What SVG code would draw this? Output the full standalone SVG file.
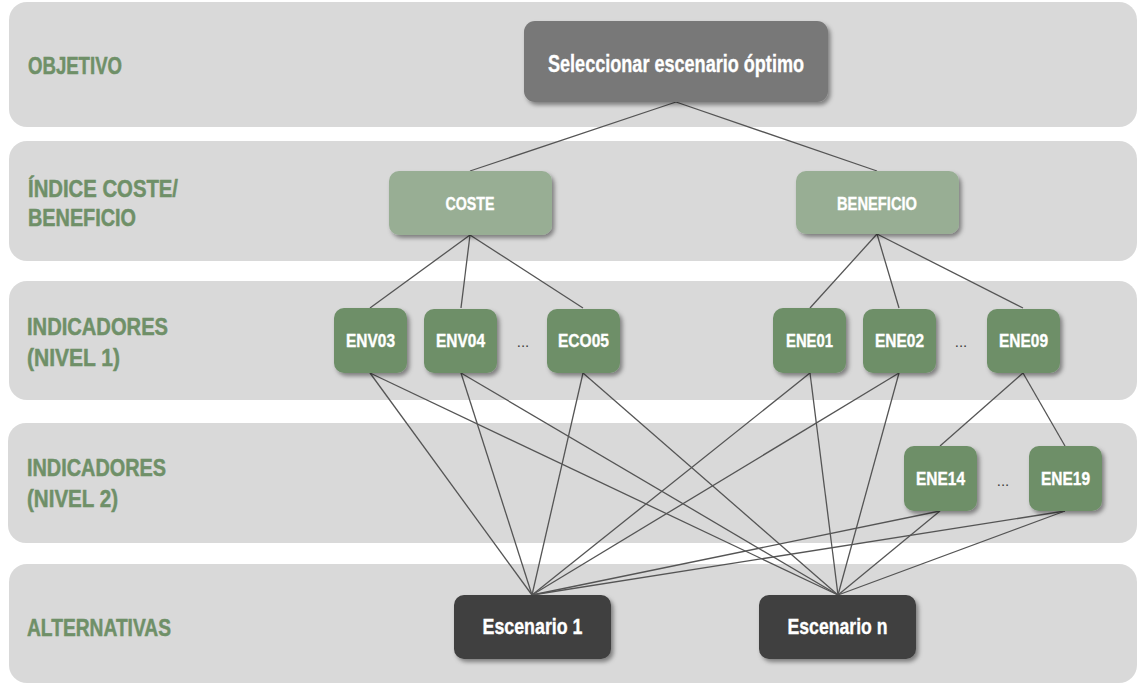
<svg xmlns="http://www.w3.org/2000/svg" width="1138" height="685" viewBox="0 0 1138 685">
  <defs>
    <filter id="shadow" x="-20%" y="-20%" width="150%" height="160%">
      <feDropShadow dx="2.5" dy="3" stdDeviation="2" flood-color="#000" flood-opacity="0.42"/>
    </filter>
    <style>
      .band { fill: #d9d9d9; }
      .lbl { font-family: "Liberation Sans Narrow", "Liberation Sans", Arial, sans-serif; font-weight: bold; font-size: 24px; fill: #6f9068; stroke: #6f9068; stroke-width: 0.5; }
      .txt { font-family: "Liberation Sans Narrow", "Liberation Sans", Arial, sans-serif; font-weight: bold; fill: #ffffff; stroke: #ffffff; stroke-width: 0.35; text-anchor: middle; }
      .goal { fill: #787878; filter: url(#shadow); }
      .crit { fill: #98ae94; filter: url(#shadow); }
      .ind { fill: #6e8f68; filter: url(#shadow); }
      .alt { fill: #404040; filter: url(#shadow); }
      .dots { font-family: "Liberation Sans", Arial, sans-serif; font-size: 15px; fill: #404040; text-anchor: middle; }
      .edges line { stroke: #555555; stroke-width: 1.3; }
    </style>
  </defs>

  <!-- level bands -->
  <g id="bands">
    <rect class="band" x="9" y="2" width="1128" height="125" rx="18"/>
    <rect class="band" x="9" y="141" width="1128" height="120" rx="18"/>
    <rect class="band" x="9" y="281" width="1128" height="119" rx="18"/>
    <rect class="band" x="8" y="423" width="1129" height="120" rx="18"/>
    <rect class="band" x="9" y="564" width="1128" height="119" rx="18"/>
  </g>

  <!-- level labels -->
  <g id="labels">
    <text class="lbl" x="28" y="74" textLength="94" lengthAdjust="spacingAndGlyphs">OBJETIVO</text>
    <text class="lbl" x="28" y="197" textLength="150" lengthAdjust="spacingAndGlyphs">ÍNDICE COSTE/</text>
    <text class="lbl" x="28" y="226" textLength="108" lengthAdjust="spacingAndGlyphs">BENEFICIO</text>
    <text class="lbl" x="27" y="335" textLength="141" lengthAdjust="spacingAndGlyphs">INDICADORES</text>
    <text class="lbl" x="27" y="366" textLength="93" lengthAdjust="spacingAndGlyphs">(NIVEL 1)</text>
    <text class="lbl" x="27" y="476" textLength="139" lengthAdjust="spacingAndGlyphs">INDICADORES</text>
    <text class="lbl" x="27" y="507" textLength="91" lengthAdjust="spacingAndGlyphs">(NIVEL 2)</text>
    <text class="lbl" x="27" y="636" textLength="144" lengthAdjust="spacingAndGlyphs">ALTERNATIVAS</text>
  </g>

  <!-- connectors -->
  <g id="connectors" class="edges">
    <line x1="676" y1="102" x2="470" y2="171"/>
    <line x1="676" y1="102" x2="877" y2="171"/>

    <line x1="470" y1="235" x2="370" y2="308"/>
    <line x1="470" y1="235" x2="461" y2="308"/>
    <line x1="470" y1="235" x2="583" y2="308"/>
    <line x1="877" y1="234" x2="810" y2="308"/>
    <line x1="877" y1="234" x2="899" y2="308"/>
    <line x1="877" y1="234" x2="1023" y2="308"/>

    <line x1="1023" y1="373" x2="940" y2="446"/>
    <line x1="1023" y1="373" x2="1065" y2="446"/>

    <line x1="370" y1="373" x2="532" y2="595"/>
    <line x1="370" y1="373" x2="838" y2="595"/>
    <line x1="461" y1="373" x2="532" y2="595"/>
    <line x1="461" y1="373" x2="838" y2="595"/>
    <line x1="583" y1="373" x2="532" y2="595"/>
    <line x1="583" y1="373" x2="838" y2="595"/>
    <line x1="810" y1="373" x2="532" y2="595"/>
    <line x1="810" y1="373" x2="838" y2="595"/>
    <line x1="899" y1="373" x2="532" y2="595"/>
    <line x1="899" y1="373" x2="838" y2="595"/>
    <line x1="940" y1="511" x2="532" y2="595"/>
    <line x1="940" y1="511" x2="838" y2="595"/>
    <line x1="1065" y1="511" x2="532" y2="595"/>
    <line x1="1065" y1="511" x2="838" y2="595"/>
  </g>

  <!-- objective -->
  <g id="n-objetivo">
    <rect class="goal" x="524" y="21" width="304" height="81" rx="11"/>
    <text class="txt" x="676" y="72" font-size="24" textLength="256" lengthAdjust="spacingAndGlyphs">Seleccionar escenario óptimo</text>
  </g>

  <!-- cost / benefit -->
  <g id="n-coste">
    <rect class="crit" x="389" y="171" width="163" height="64" rx="10"/>
    <text class="txt" x="470" y="210" font-size="18.5" textLength="49" lengthAdjust="spacingAndGlyphs">COSTE</text>
  </g>
  <g id="n-beneficio">
    <rect class="crit" x="796" y="171" width="163" height="63" rx="10"/>
    <text class="txt" x="877" y="210" font-size="18.5" textLength="80" lengthAdjust="spacingAndGlyphs">BENEFICIO</text>
  </g>

  <!-- level 1 indicators -->
  <g id="n-env03">
    <rect class="ind" x="334" y="308" width="73" height="65" rx="10"/>
    <text class="txt" x="370.5" y="347" font-size="18.5" textLength="49" lengthAdjust="spacingAndGlyphs">ENV03</text>
  </g>
  <g id="n-env04">
    <rect class="ind" x="424" y="309" width="73" height="64" rx="10"/>
    <text class="txt" x="460.5" y="347" font-size="18.5" textLength="49" lengthAdjust="spacingAndGlyphs">ENV04</text>
  </g>
  <text class="dots" x="523" y="347">...</text>
  <g id="n-eco05">
    <rect class="ind" x="547" y="309" width="73" height="64" rx="10"/>
    <text class="txt" x="583.5" y="347" font-size="18.5" textLength="51" lengthAdjust="spacingAndGlyphs">ECO05</text>
  </g>
  <g id="n-ene01">
    <rect class="ind" x="773" y="308" width="73" height="65" rx="10"/>
    <text class="txt" x="809.5" y="347" font-size="18.5" textLength="47" lengthAdjust="spacingAndGlyphs">ENE01</text>
  </g>
  <g id="n-ene02">
    <rect class="ind" x="863" y="309" width="73" height="64" rx="10"/>
    <text class="txt" x="899.5" y="347" font-size="18.5" textLength="49" lengthAdjust="spacingAndGlyphs">ENE02</text>
  </g>
  <text class="dots" x="961" y="347">...</text>
  <g id="n-ene09">
    <rect class="ind" x="987" y="309" width="73" height="64" rx="10"/>
    <text class="txt" x="1023.5" y="347" font-size="18.5" textLength="49" lengthAdjust="spacingAndGlyphs">ENE09</text>
  </g>

  <!-- level 2 indicators -->
  <g id="n-ene14">
    <rect class="ind" x="904" y="446" width="73" height="65" rx="10"/>
    <text class="txt" x="940.5" y="485" font-size="18.5" textLength="49" lengthAdjust="spacingAndGlyphs">ENE14</text>
  </g>
  <text class="dots" x="1003" y="486">...</text>
  <g id="n-ene19">
    <rect class="ind" x="1029" y="446" width="73" height="65" rx="10"/>
    <text class="txt" x="1065.5" y="485" font-size="18.5" textLength="49" lengthAdjust="spacingAndGlyphs">ENE19</text>
  </g>

  <!-- alternatives -->
  <g id="n-escenario1">
    <rect class="alt" x="454" y="595" width="157" height="64" rx="10"/>
    <text class="txt" x="532.5" y="634" font-size="22" textLength="100" lengthAdjust="spacingAndGlyphs">Escenario 1</text>
  </g>
  <g id="n-escenarion">
    <rect class="alt" x="759" y="595" width="157" height="64" rx="10"/>
    <text class="txt" x="837.5" y="634" font-size="22" textLength="100" lengthAdjust="spacingAndGlyphs">Escenario n</text>
  </g>
</svg>
